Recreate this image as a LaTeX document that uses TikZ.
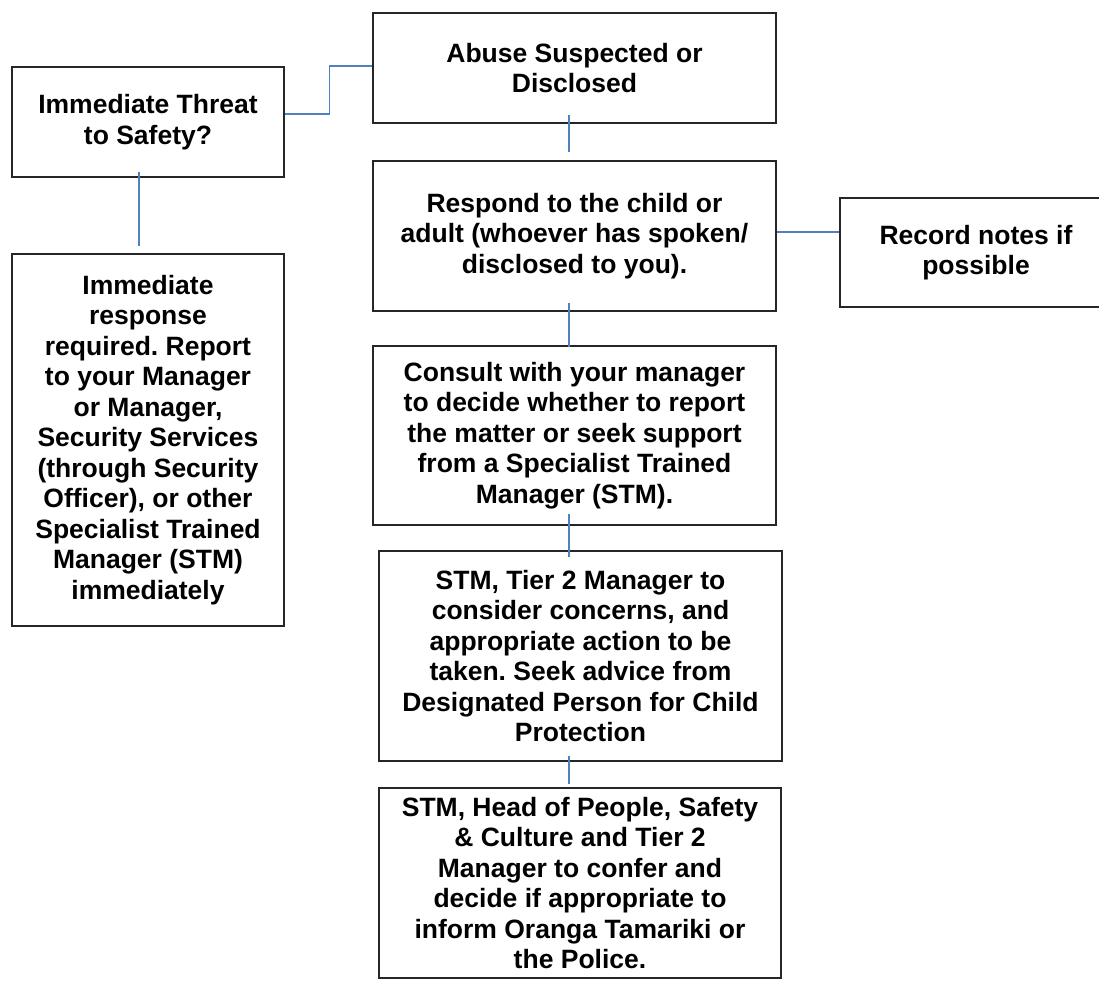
\documentclass[tikz,border=0pt]{standalone}
\usepackage{fontspec}
\setmainfont{Liberation Sans}
\usepackage{tikz}
\definecolor{linkblue}{RGB}{79,129,189}
\frenchspacing

\begin{document}
\begin{tikzpicture}[x=1pt, y=-1pt,
		stepbox/.style={draw=black!85, line width=1.1pt, align=center, inner sep=0pt,
			font=\fontsize{26.5}{30.5}\selectfont\bfseries},
		link/.style={color=linkblue, line width=1.3pt}]

			\useasboundingbox (0, 0) rectangle (1099, 980);

			\node[stepbox, minimum width=403, minimum height=110] (abuse) at (574.5, 68) {Abuse Suspected or\\Disclosed};
			\node[stepbox, minimum width=272, minimum height=110] (threat) at (148, 122) {Immediate Threat\\to Safety?};
			\node[stepbox, minimum width=272, minimum height=372] (immresp) at (148, 440) {Immediate\\response\\required. Report\\to your Manager\\or Manager,\\Security Services\\(through Security\\Officer), or other\\Specialist Trained\\Manager (STM)\\immediately};
			\node[stepbox, minimum width=403, minimum height=150] (respond) at (574.5, 236) {Respond to the child or\\adult (whoever has spoken/\\disclosed to you).};
			\node[stepbox, minimum width=272, minimum height=109] (record) at (976, 252.5) {Record notes if\\possible};
			\node[stepbox, minimum width=403, minimum height=179] (consult) at (574.5, 435.5) {Consult with your manager\\to decide whether to report\\the matter or seek support\\from a Specialist Trained\\Manager (STM).};
			\node[stepbox, minimum width=403, minimum height=210] (tier) at (580.5, 656) {STM, Tier 2 Manager to\\consider concerns, and\\appropriate action to be\\taken. Seek advice from\\Designated Person for Child\\Protection};
			\node[stepbox, minimum width=402, minimum height=190] (head) at (580, 883) {STM, Head of People, Safety\\\& Culture and Tier 2\\Manager to confer and\\decide if appropriate to\\inform Oranga Tamariki or\\the Police.};

			\draw[link] ([yshift=8pt]threat.east) -- ++(45, 0) |- ([yshift=2pt]abuse.west);
			\draw[link] ([xshift=-9pt, yshift=6pt]threat.south) -- ([xshift=-9pt, yshift=7pt]immresp.north);
			\draw[link] ([xshift=-5.5pt, yshift=9pt]abuse.south) -- ([xshift=-5.5pt, yshift=8pt]respond.north);
			\draw[link] ([yshift=4pt]respond.east) -- ([yshift=4pt]respond.east -| record.west);
			\draw[link] ([xshift=-5.5pt, yshift=9pt]respond.south) -- ([xshift=-5.5pt, yshift=-2pt]consult.north);
			\draw[link] ([xshift=-5.5pt, yshift=12pt]consult.south) -- ([xshift=-11.5pt, yshift=-7pt]tier.north);
			\draw[link] ([xshift=-11.5pt, yshift=6pt]tier.south) -- ([xshift=-11pt, yshift=3pt]head.north);

		\end{tikzpicture}
\end{document}
